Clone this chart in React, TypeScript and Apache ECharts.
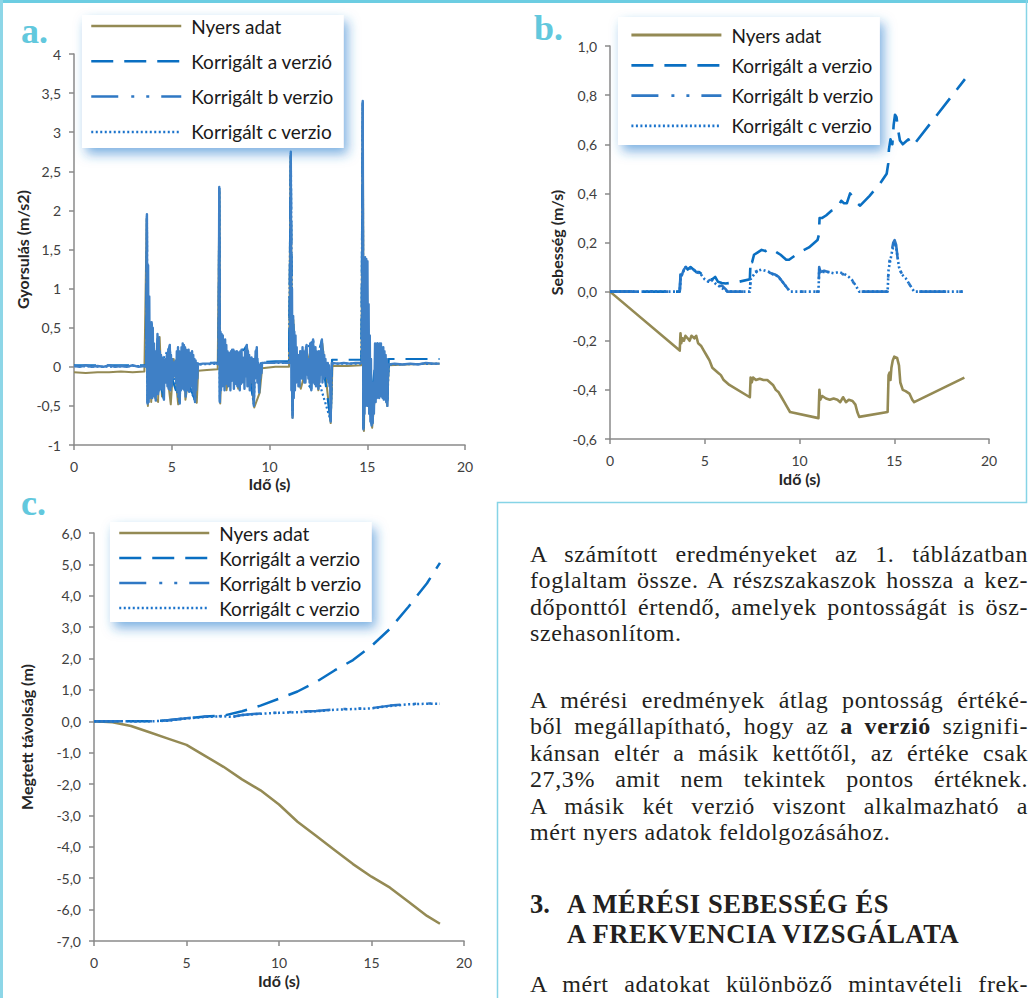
import React, { useEffect, useRef } from 'react';
import * as echarts from 'echarts';

// ---------- Chart a: acceleration (m/s2) ----------
const accRaw: number[][] = [
  [0, -0.07], [0.6, -0.08], [1.2, -0.07], [1.8, -0.07], [2.4, -0.06], [3.0, -0.07], [3.6, -0.06],
  [3.72, 1.9], [3.78, -0.5], [3.88, 0.5], [3.95, -0.45], [4.05, 0.3], [4.15, -0.4], [4.3, -0.45], [4.38, 0.38], [4.5, -0.38],
  [4.7, 0.05], [4.95, -0.48], [5.1, 0.1], [5.33, -0.48], [5.6, 0.25], [5.7, -0.42], [6.0, 0.1], [6.28, -0.46], [6.35, -0.05],
  [6.8, -0.04], [7.35, -0.03], [7.44, 2.25], [7.48, -0.47], [7.6, 0.4], [7.8, -0.3], [8.1, 0.15], [8.4, -0.28], [8.85, 0.25],
  [9.22, -0.52], [9.5, -0.33], [9.62, -0.02], [10.3, 0.0], [11.0, 0.0], [11.08, 2.7], [11.18, -0.65], [11.22, 0.6],
  [11.3, 0.0], [11.6, -0.28], [12.2, 0.3], [12.5, -0.3], [12.7, 0.3], [13.13, -0.72], [13.22, 0.01], [14.0, 0.01], [14.7, 0.02],
  [14.77, 3.35], [14.83, -0.82], [14.97, 1.35], [15.05, 0.0], [15.25, -0.78], [15.6, 0.25], [16.02, -0.5], [16.1, 0.02],
  [17.0, 0.03], [18.0, 0.04], [18.7, 0.04]
];

const accCorrA: number[][] = [
  [0, 0.02], [1, 0.02], [2, 0.02], [3, 0.02], [3.7, 0.02], [3.73, 1.9], [3.77, -0.45], [3.8, 0.2], [3.97, 0.55], [4.0, -0.2],
  [4.16, -0.4], [4.2, 0.0], [4.28, 0.4], [4.32, -0.1], [4.58, -0.4], [4.62, 0.0], [4.9, 0.27], [4.95, -0.1], [5.41, -0.45],
  [5.45, 0.0], [5.65, 0.28], [5.7, -0.1], [6.19, -0.43], [6.23, 0.0], [6.35, 0.04], [7.0, 0.05], [7.4, 0.05], [7.43, 2.28],
  [7.46, -0.43], [7.49, 0.43], [7.55, 0.0], [8.0, -0.28], [8.05, 0.0], [8.84, 0.27], [8.9, 0.0], [9.2, -0.48], [9.25, 0.0],
  [9.35, 0.24], [9.4, 0.0], [9.47, -0.3], [9.55, 0.06], [10.3, 0.07], [11.0, 0.07], [11.09, 2.72], [11.18, -0.62],
  [11.21, 0.62], [11.3, 0.0], [12.14, -0.28], [12.18, 0.0], [12.23, 0.34], [12.3, 0.0], [12.68, 0.34], [12.75, 0.0],
  [13.13, -0.68], [13.2, 0.09], [14.0, 0.09], [14.7, 0.09], [14.77, 3.38], [14.8, -0.78], [14.89, 1.36], [14.95, 0.0],
  [15.22, -0.72], [15.3, -0.2], [15.52, 0.3], [15.6, 0.0], [16.03, -0.43], [16.1, 0.1], [17.0, 0.1], [18.0, 0.1], [18.7, 0.1]
];

const accCorrB: number[][] = [
  [0, 0.01], [0.3, 0.0], [0.6, 0.02], [0.9, 0.0], [1.2, 0.01], [1.5, 0.0], [1.8, 0.02], [2.1, 0.0], [2.4, 0.01], [2.7, 0.0],
  [3.0, 0.02], [3.3, 0.0], [3.6, 0.01],
  [3.70, 0.0], [3.73, 1.95], [3.76, -0.47], [3.79, 1.3], [3.82, -0.45], [3.85, 0.9], [3.88, -0.4], [3.91, 0.45], [3.94, -0.35],
  [3.97, 0.57], [4.00, -0.4], [4.03, 0.5], [4.06, -0.3], [4.09, 0.3], [4.12, -0.38], [4.15, 0.2], [4.18, -0.43], [4.21, 0.15],
  [4.24, -0.25], [4.27, 0.42], [4.30, -0.35], [4.33, 0.38], [4.36, -0.3], [4.39, 0.2], [4.42, -0.28], [4.45, 0.15],
  [4.48, -0.22], [4.51, 0.12], [4.54, -0.3], [4.57, 0.1], [4.60, -0.42], [4.63, 0.05], [4.66, -0.15], [4.69, 0.1],
  [4.72, -0.2], [4.75, 0.15], [4.78, -0.25], [4.81, 0.2], [4.84, -0.28], [4.87, 0.22], [4.90, 0.28], [4.93, -0.3],
  [4.96, 0.15], [4.99, -0.25], [5.02, 0.1], [5.05, -0.15], [5.08, 0.05], [5.11, -0.12], [5.14, 0.06], [5.17, -0.1],
  [5.20, 0.08], [5.23, -0.2], [5.26, 0.2], [5.29, -0.3], [5.32, 0.25], [5.35, -0.38], [5.38, 0.2], [5.41, -0.47],
  [5.44, 0.18], [5.47, -0.3], [5.50, 0.25], [5.53, -0.25], [5.56, 0.3], [5.59, -0.28], [5.62, 0.28], [5.65, -0.3],
  [5.68, 0.25], [5.71, -0.38], [5.74, 0.22], [5.77, -0.25], [5.80, 0.2], [5.83, -0.3], [5.86, 0.22], [5.89, -0.32],
  [5.92, 0.18], [5.95, -0.25], [5.98, 0.15], [6.01, -0.22], [6.04, 0.2], [6.07, -0.3], [6.10, 0.15], [6.13, -0.35],
  [6.16, 0.1], [6.19, -0.45], [6.22, 0.08], [6.25, -0.3], [6.28, 0.05], [6.31, -0.15], [6.34, 0.03],
  [6.6, 0.04], [6.9, 0.04], [7.2, 0.05],
  [7.40, 0.03], [7.43, 2.3], [7.46, -0.45], [7.49, 0.45], [7.52, -0.3], [7.55, 0.42], [7.58, -0.25], [7.61, 0.4],
  [7.64, -0.2], [7.67, 0.3], [7.70, -0.3], [7.73, 0.35], [7.76, -0.22], [7.79, 0.28], [7.82, -0.15], [7.85, 0.2],
  [7.88, -0.25], [7.91, 0.18], [7.94, -0.2], [7.97, 0.15], [8.00, -0.3], [8.03, 0.2], [8.06, -0.18], [8.09, 0.22],
  [8.12, -0.15], [8.15, 0.22], [8.18, -0.28], [8.21, 0.2], [8.24, -0.2], [8.27, 0.18], [8.30, -0.22], [8.33, 0.2],
  [8.36, -0.25], [8.39, 0.15], [8.42, -0.25], [8.45, 0.18], [8.48, -0.3], [8.51, 0.2], [8.54, -0.22], [8.57, 0.22],
  [8.60, -0.2], [8.63, 0.12], [8.66, -0.15], [8.69, 0.1], [8.72, -0.28], [8.75, 0.2], [8.78, -0.12], [8.81, 0.22],
  [8.84, 0.28], [8.87, -0.25], [8.90, 0.2], [8.93, -0.2], [8.96, 0.15], [8.99, -0.3], [9.02, 0.1], [9.05, -0.2],
  [9.08, 0.12], [9.11, -0.15], [9.14, 0.1], [9.17, -0.25], [9.20, -0.5], [9.23, 0.1], [9.26, -0.15], [9.29, 0.2],
  [9.32, -0.1], [9.35, 0.25], [9.38, -0.2], [9.41, 0.05], [9.44, -0.15], [9.47, -0.33], [9.50, 0.02], [9.53, -0.15],
  [9.56, 0.02], [9.59, -0.08], [9.62, 0.05],
  [9.9, 0.05], [10.2, 0.05], [10.5, 0.06], [10.8, 0.05], [11.0, 0.05],
  [11.06, 0.05], [11.09, 2.75], [11.12, -0.3], [11.15, 1.0], [11.18, -0.65], [11.21, 0.65], [11.24, -0.4], [11.27, 0.45],
  [11.30, -0.3], [11.33, 0.4], [11.36, -0.2], [11.39, 0.25], [11.42, -0.15], [11.45, 0.15], [11.48, -0.25], [11.51, 0.15],
  [11.54, -0.25], [11.57, 0.2], [11.60, -0.1], [11.63, 0.2], [11.66, -0.15], [11.69, 0.25], [11.72, -0.15], [11.75, 0.2],
  [11.78, -0.2], [11.81, 0.2], [11.84, -0.2], [11.87, 0.25], [11.90, 0.28], [11.93, -0.1], [11.96, 0.1], [11.99, -0.15],
  [12.02, 0.1], [12.05, -0.2], [12.08, 0.3], [12.11, -0.25], [12.14, -0.3], [12.17, 0.15], [12.20, 0.3], [12.23, 0.35],
  [12.26, -0.2], [12.29, 0.25], [12.32, -0.22], [12.35, 0.25], [12.38, -0.25], [12.41, 0.2], [12.44, -0.15], [12.47, 0.15],
  [12.50, -0.28], [12.53, 0.2], [12.56, -0.2], [12.59, 0.15], [12.62, -0.1], [12.65, 0.3], [12.68, 0.35], [12.71, -0.2],
  [12.74, 0.2], [12.77, -0.15], [12.80, 0.15], [12.83, -0.12], [12.86, 0.1], [12.89, -0.1], [12.92, 0.05], [12.95, -0.15],
  [12.98, 0.05], [13.01, -0.2], [13.04, 0.02], [13.07, -0.25], [13.10, -0.1], [13.13, -0.7], [13.16, -0.1], [13.19, 0.05],
  [13.5, 0.04], [13.8, 0.05], [14.1, 0.04], [14.4, 0.05], [14.7, 0.05],
  [14.74, 0.05], [14.77, 3.4], [14.80, -0.8], [14.83, 1.2], [14.86, -0.6], [14.89, 1.4], [14.92, -0.5], [14.95, 1.38],
  [14.98, -0.3], [15.01, 1.35], [15.04, -0.5], [15.07, 0.8], [15.10, -0.6], [15.13, 0.4], [15.16, -0.7], [15.19, 0.1],
  [15.22, -0.75], [15.25, -0.2], [15.28, -0.72], [15.31, -0.2], [15.34, -0.6], [15.37, -0.2], [15.40, 0.3], [15.43, -0.45],
  [15.46, 0.28], [15.49, -0.4], [15.52, 0.3], [15.55, -0.35], [15.58, 0.28], [15.61, -0.4], [15.64, 0.3], [15.67, -0.35],
  [15.70, 0.3], [15.73, -0.38], [15.76, 0.25], [15.79, -0.4], [15.82, 0.25], [15.85, -0.42], [15.88, 0.2], [15.91, -0.35],
  [15.94, 0.15], [15.97, -0.45], [16.00, 0.1], [16.03, -0.5], [16.06, 0.0], [16.09, 0.03],
  [16.4, 0.04], [16.8, 0.03], [17.2, 0.04], [17.6, 0.03], [18.0, 0.05], [18.4, 0.04], [18.7, 0.04]
];

const accCorrC: number[][] = [
  [0, 0.01], [1.5, 0.0], [3.0, 0.01], [3.7, 0.01], [3.73, 1.93], [3.76, -0.46], [3.8, 0.1], [3.97, 0.56], [4.0, 0.0],
  [4.3, -0.35], [4.35, 0.0], [4.9, 0.26], [4.95, 0.0], [5.41, -0.45], [5.45, 0.0], [6.19, -0.43], [6.23, 0.0], [6.35, 0.03],
  [7.4, 0.04], [7.43, 2.28], [7.46, -0.44], [7.5, 0.0], [8.84, 0.26], [8.9, 0.0], [9.2, -0.48], [9.25, 0.0], [9.6, 0.05],
  [11.0, 0.05], [11.09, 2.73], [11.18, -0.63], [11.22, 0.0], [12.23, 0.34], [12.3, 0.0], [13.13, -0.69], [13.2, 0.04],
  [14.7, 0.04], [14.77, 3.38], [14.8, -0.79], [14.89, 1.37], [14.95, 0.0], [15.22, -0.73], [15.3, -0.2], [16.03, -0.44],
  [16.1, 0.03], [18.7, 0.04]
];

// ---------- Chart b: velocity (m/s) ----------
const velRaw: number[][] = [
  [0, 0], [3.68, -0.24], [3.72, -0.17], [3.76, -0.21], [3.82, -0.19], [3.9, -0.2], [3.98, -0.18], [4.1, -0.19], [4.2, -0.2],
  [4.3, -0.18], [4.45, -0.19], [4.55, -0.18], [4.65, -0.21], [4.8, -0.22], [4.95, -0.24], [5.1, -0.26], [5.25, -0.28],
  [5.4, -0.31], [5.55, -0.32], [5.7, -0.33], [5.85, -0.34], [6.0, -0.36], [6.15, -0.37], [6.3, -0.38], [7.38, -0.43],
  [7.42, -0.35], [7.48, -0.37], [7.55, -0.35], [7.7, -0.36], [7.9, -0.355], [8.1, -0.36], [8.3, -0.36], [8.45, -0.37],
  [8.6, -0.38], [8.75, -0.4], [8.9, -0.41], [9.05, -0.43], [9.2, -0.45], [9.35, -0.47], [9.5, -0.49], [11.0, -0.515],
  [11.05, -0.4], [11.1, -0.44], [11.2, -0.425], [11.4, -0.435], [11.6, -0.44], [11.8, -0.435], [12.0, -0.44], [12.15, -0.45],
  [12.3, -0.43], [12.45, -0.45], [12.6, -0.44], [12.8, -0.445], [12.95, -0.46], [13.05, -0.49], [13.15, -0.51],
  [14.65, -0.49], [14.7, -0.34], [14.75, -0.33], [14.8, -0.36], [14.85, -0.31], [14.92, -0.28], [15.0, -0.265],
  [15.15, -0.27], [15.25, -0.3], [15.32, -0.37], [15.45, -0.4], [15.6, -0.405], [15.8, -0.415], [15.95, -0.44],
  [16.05, -0.45], [18.7, -0.35]
];

const velCorrA: number[][] = [
  [0, 0], [3.68, 0.0], [3.72, 0.07], [3.8, 0.06], [3.9, 0.09], [4.0, 0.1], [4.1, 0.09], [4.25, 0.1], [4.4, 0.09], [4.55, 0.08],
  [4.7, 0.08], [4.85, 0.07], [5.0, 0.06], [5.2, 0.05], [5.4, 0.05], [5.55, 0.06], [5.7, 0.04], [5.9, 0.035], [6.1, 0.033],
  [6.8, 0.04], [7.38, 0.05], [7.42, 0.13], [7.5, 0.12], [7.6, 0.15], [7.8, 0.16], [8.0, 0.17], [8.2, 0.165], [8.4, 0.175],
  [8.6, 0.17], [8.8, 0.16], [9.0, 0.15], [9.3, 0.13], [9.45, 0.13], [10.0, 0.16], [10.5, 0.18], [10.95, 0.21], [11.02, 0.23],
  [11.06, 0.3], [11.2, 0.3], [11.4, 0.31], [11.7, 0.33], [12.0, 0.34], [12.2, 0.37], [12.35, 0.36], [12.5, 0.36],
  [12.67, 0.4], [12.85, 0.38], [13.05, 0.36], [13.2, 0.35], [13.7, 0.39], [14.25, 0.44], [14.6, 0.48], [14.68, 0.52],
  [14.72, 0.58], [14.8, 0.62], [14.9, 0.6], [14.97, 0.68], [15.04, 0.72], [15.12, 0.71], [15.2, 0.66], [15.3, 0.615],
  [15.45, 0.6], [15.6, 0.61], [15.75, 0.62], [15.9, 0.6], [16.0, 0.595], [18.73, 0.865]
];

const velCorrB: number[][] = [
  [0, 0], [3.68, 0], [3.72, 0.06], [3.8, 0.07], [3.9, 0.09], [4.0, 0.1], [4.1, 0.09], [4.25, 0.1], [4.4, 0.09], [4.55, 0.08],
  [4.7, 0.075], [4.85, 0.07], [5.0, 0.055], [5.2, 0.045], [5.35, 0.05], [5.5, 0.03], [5.7, 0.02], [5.9, 0.025], [6.1, 0.01],
  [6.2, 0], [7.38, 0], [7.42, 0.06], [7.5, 0.07], [7.65, 0.08], [7.9, 0.09], [8.1, 0.085], [8.3, 0.08], [8.5, 0.075],
  [8.7, 0.07], [8.9, 0.06], [9.1, 0.04], [9.3, 0.02], [9.5, 0], [11.0, 0], [11.04, 0.1], [11.1, 0.08], [11.3, 0.085],
  [11.5, 0.08], [11.7, 0.08], [11.9, 0.075], [12.1, 0.08], [12.3, 0.07], [12.45, 0.075], [12.6, 0.06], [12.75, 0.05],
  [12.9, 0.03], [13.05, 0.01], [13.15, 0], [14.65, 0], [14.7, 0.1], [14.78, 0.14], [14.85, 0.16], [14.95, 0.2],
  [15.02, 0.21], [15.1, 0.19], [15.2, 0.12], [15.35, 0.08], [15.5, 0.06], [15.65, 0.05], [15.8, 0.03], [15.95, 0.01],
  [16.05, 0], [18.7, 0]
];

const velCorrC: number[][] = [
  [0, 0], [3.68, 0], [3.72, 0.05], [3.85, 0.08], [4.0, 0.1], [4.2, 0.095], [4.4, 0.09], [4.6, 0.08], [4.8, 0.07], [5.0, 0.05],
  [5.2, 0.04], [5.4, 0.045], [5.6, 0.03], [5.8, 0.02], [6.0, 0.01], [6.2, 0], [7.38, 0], [7.42, 0.05], [7.6, 0.07],
  [7.8, 0.085], [8.0, 0.09], [8.2, 0.085], [8.4, 0.08], [8.6, 0.07], [8.8, 0.065], [9.0, 0.05], [9.2, 0.03], [9.5, 0],
  [11.0, 0], [11.04, 0.09], [11.2, 0.08], [11.5, 0.08], [11.8, 0.075], [12.1, 0.08], [12.4, 0.07], [12.6, 0.06],
  [12.8, 0.045], [13.0, 0.02], [13.15, 0], [14.65, 0], [14.7, 0.09], [14.8, 0.13], [14.9, 0.17], [15.0, 0.2], [15.1, 0.18],
  [15.25, 0.1], [15.4, 0.07], [15.6, 0.055], [15.8, 0.03], [16.05, 0], [18.7, 0]
];

// ---------- Chart c: distance (m) ----------
const distRaw: number[][] = [
  [0, 0], [1, -0.03], [2, -0.15], [3, -0.35], [4, -0.55], [5, -0.75], [6, -1.1], [7, -1.45], [8, -1.85], [9, -2.2],
  [10, -2.65], [11, -3.2], [12, -3.65], [13, -4.1], [14, -4.55], [15, -4.95], [16, -5.3], [17, -5.75], [18, -6.2], [18.7, -6.45]
];
const distCorrA: number[][] = [
  [0, 0], [3, 0], [4, 0.03], [5, 0.1], [6, 0.15], [7, 0.18], [8, 0.32], [9, 0.5], [10, 0.72], [11, 0.95], [12, 1.25],
  [13, 1.62], [14, 1.95], [15, 2.4], [16, 2.95], [17, 3.65], [18, 4.4], [18.7, 5.05]
];
const distCorrB: number[][] = [
  [0, 0], [3, 0], [4, 0.03], [5, 0.1], [6, 0.15], [7, 0.17], [7.5, 0.15], [8, 0.2], [9, 0.25], [10, 0.28], [11, 0.3],
  [12, 0.33], [13, 0.38], [14, 0.4], [15, 0.42], [16, 0.5], [17, 0.55], [18, 0.57], [18.7, 0.57]
];
const distCorrC: number[][] = [
  [0, 0], [3, 0], [4, 0.02], [5, 0.09], [6, 0.14], [7, 0.16], [7.5, 0.14], [8, 0.2], [9, 0.24], [10, 0.27], [11, 0.29],
  [12, 0.32], [13, 0.37], [14, 0.39], [15, 0.41], [16, 0.49], [17, 0.54], [18, 0.56], [18.7, 0.56]
];

// ---------- Labels ----------
const legendNamesA = ['Nyers adat', 'Korrigált a verzió', 'Korrigált b verzio', 'Korrigált c verzio'];
const legendNamesBC = ['Nyers adat', 'Korrigált a verzio', 'Korrigált b verzio', 'Korrigált c verzio'];
const yTitles = ['Gyorsulás (m/s2)', 'Sebesség (m/s)', 'Megtett távolság (m)'];
const xTitle = 'Idő (s)';
const panelLetters = ['a.', 'b.', 'c.'];

const para1 = [
  'A számított eredményeket az 1.  táblázatban',
  'foglaltam össze. A részszakaszok hossza a kez-',
  'dőponttól értendő, amelyek pontosságát is ösz-',
  'szehasonlítom.'
];
const para2 = [
  'A mérési eredmények átlag pontosság értéké-',
  'ből megállapítható, hogy az |a verzió| szignifi-',
  'kánsan eltér a másik kettőtől, az értéke csak',
  '27,3% amit nem tekintek pontos értéknek.',
  'A másik két verzió viszont alkalmazható a',
  'mért nyers adatok feldolgozásához.'
];
const headingNum = '3.';
const headingLines = ['A MÉRÉSI SEBESSÉG ÉS', 'A FREKVENCIA VIZSGÁLATA'];
const para3 = ['A mért adatokat különböző mintavételi frek-'];

const RAW = '#948A54';
const BLUE_A = '#0a6fc2';
const BLUE_B = '#2f78c4';
const BLUE_C = '#1c74cc';
const AXIS = '#8a8a8a';
const DASH_A = [22, 11];
const DASH_B = [27, 13, 3, 12, 3, 12];
const DASH_C = [2, 2.5];

function App() {
  const ref = useRef<HTMLDivElement>(null);

  useEffect(() => {
    if (!ref.current) return;
    const chart = echarts.init(ref.current, undefined, { renderer: 'svg' });

    const labelStyle = { color: '#404040', fontFamily: 'Lato', fontSize: 14 };
    const titleStyle = { fontFamily: 'Lato', fontWeight: 'bold' as const, fontSize: 16, color: '#262626' };

    const mkX = (gridIndex: number, nameGap: number) => ({
      type: 'value', gridIndex, min: 0, max: 20, interval: 5,
      name: xTitle, nameLocation: 'middle', nameGap, nameTextStyle: titleStyle,
      axisLine: { onZero: false, lineStyle: { color: AXIS, width: 1.5 } },
      axisTick: { show: true, inside: false, length: 5, lineStyle: { color: AXIS, width: 1.5 } },
      axisLabel: { ...labelStyle, margin: 14 },
      splitLine: { show: false }
    });
    const mkY = (gridIndex: number, min: number, max: number, interval: number, nameGap: number, fmt: (v: number) => string) => ({
      type: 'value', gridIndex, min, max, interval,
      name: yTitles[gridIndex], nameLocation: 'middle', nameGap, nameRotate: 90, nameTextStyle: titleStyle,
      axisLine: { onZero: false, lineStyle: { color: AXIS, width: 1.5 } },
      axisTick: { show: true, inside: false, length: 5, lineStyle: { color: AXIS, width: 1.5 } },
      axisLabel: { ...labelStyle, margin: 13, formatter: fmt },
      splitLine: { show: false }
    });

    const fmtGeneral = (v: number) => String(Math.round(v * 10) / 10).replace('.', ',');
    const fmtOne = (v: number) => (Math.round(v * 10) / 10).toFixed(1).replace('.', ',');

    const line = (name: string, data: number[][], idx: number, color: string, type: any, width: number) => ({
      type: 'line', name, data, xAxisIndex: idx, yAxisIndex: idx, symbol: 'none', silent: true,
      lineStyle: { color, width, type, cap: 'butt', join: 'round' },
      itemStyle: { color }
    });

    const legendItems = (names: string[], width: number) => [
      { name: names[0], lineStyle: { type: 'solid', color: RAW, width } },
      { name: names[1], lineStyle: { type: DASH_A, color: BLUE_A, width } },
      { name: names[2], lineStyle: { type: DASH_B, color: BLUE_B, width } },
      { name: names[3], lineStyle: { type: DASH_C, color: BLUE_C, width } }
    ];

    const legend = (names: string[], left: number, top: number, gap: number, padding: number[], width: number) => ({
      data: legendItems(names, width), orient: 'vertical', left, top, padding, itemWidth: 90, itemHeight: 20, itemGap: gap,
      backgroundColor: '#ffffff', shadowBlur: 12, shadowColor: 'rgba(40,125,205,0.6)', shadowOffsetX: 4, shadowOffsetY: 6,
      selectedMode: false,
      itemStyle: { opacity: 0 },
      textStyle: { fontFamily: 'Lato', fontSize: 19, lineHeight: 20, color: '#1a1a1a', padding: [0, 0, 0, 5] }
    });

    chart.setOption({
      animation: false,
      backgroundColor: '#ffffff',
      grid: [
        { left: 74, top: 54, width: 391, height: 391, outerBoundsMode: 'none' },
        { left: 610, top: 46, width: 379, height: 393, outerBoundsMode: 'none' },
        { left: 94, top: 533, width: 370, height: 408, outerBoundsMode: 'none' }
      ],
      xAxis: [mkX(0, 30), mkX(1, 31), mkX(2, 31)],
      yAxis: [
        mkY(0, -1, 4, 0.5, 44, fmtGeneral),
        mkY(1, -0.6, 1.0, 0.2, 46, fmtOne),
        mkY(2, -7, 6, 1, 60, fmtOne)
      ],
      legend: [
        legend(legendNamesA, 82, 15, 15.3, [1, 10, 6, 8], 2.5),
        legend(legendNamesBC, 618, 17, 10.3, [8, 6, 9, 12], 2.8),
        legend(legendNamesBC, 110, 522, 5, [1, 10, 4, 8], 2.5)
      ],
      series: [
        line(legendNamesA[0], accRaw, 0, RAW, 'solid', 2),
        line(legendNamesA[1], accCorrA, 0, BLUE_A, DASH_A, 2.2),
        line(legendNamesA[3], accCorrC, 0, BLUE_C, DASH_C, 2.2),
        line(legendNamesA[2], accCorrB, 0, '#3f80c6', 'solid', 2.4),

        line(legendNamesBC[0], velRaw, 1, RAW, 'solid', 2.6),
        line(legendNamesBC[1], velCorrA, 1, BLUE_A, DASH_A, 2.6),
        line(legendNamesBC[2], velCorrB, 1, BLUE_B, DASH_B, 2.6),
        line(legendNamesBC[3], velCorrC, 1, BLUE_C, DASH_C, 2.6),

        line(legendNamesBC[0], distRaw, 2, RAW, 'solid', 2.5),
        line(legendNamesBC[1], distCorrA, 2, BLUE_A, DASH_A, 2.5),
        line(legendNamesBC[2], distCorrB, 2, BLUE_B, DASH_B, 2.5),
        line(legendNamesBC[3], distCorrC, 2, BLUE_C, DASH_C, 2.5)
      ],
      graphic: [
        { type: 'rect', shape: { x: 0, y: 0, width: 1028, height: 3 }, style: { fill: '#6ccde2' }, silent: true },
        { type: 'rect', shape: { x: 0, y: 0, width: 3, height: 998 }, style: { fill: '#8dd6e7' }, silent: true },
        {
          type: 'polyline', shape: { points: [[1026.5, 0], [1026.5, 502.5], [497.5, 502.5], [497.5, 998]] },
          style: { stroke: '#86d4e6', lineWidth: 1.5, fill: 'none' }, silent: true
        },
        { type: 'text', x: 21, y: 31, style: { text: panelLetters[0], font: 'bold 36px "Liberation Serif"', fill: '#62c8dd', verticalAlign: 'middle' } },
        { type: 'text', x: 534, y: 28, style: { text: panelLetters[1], font: 'bold 36px "Liberation Serif"', fill: '#62c8dd', verticalAlign: 'middle' } },
        { type: 'text', x: 21, y: 503, style: { text: panelLetters[2], font: 'bold 36px "Liberation Serif"', fill: '#62c8dd', verticalAlign: 'middle' } }
      ]
    } as any);

    return () => chart.dispose();
  }, []);

  const serif = '"Liberation Serif", "Times New Roman", serif';
  const lineDiv = (txt: string, key: number, last: boolean) => {
    const parts = txt.split('|');
    return (
      <div key={key} style={{ textAlign: last ? 'left' : 'justify', textAlignLast: last ? 'left' : 'justify' } as any}>
        {parts.map((p, i) => (i % 2 === 1 ? <b key={i}>{p}</b> : <span key={i}>{p}</span>))}
      </div>
    );
  };

  const bodyStyle: React.CSSProperties = {
    position: 'absolute', left: 530, width: 498, fontFamily: serif, fontSize: 24, letterSpacing: '0.6px',
    lineHeight: '26.4px', color: '#231f20'
  };

  return (
    <div style={{ position: 'absolute', left: 0, top: 0, width: 1028, height: 998, overflow: 'hidden', background: '#fff' }}>
      <div ref={ref} style={{ position: 'absolute', left: 0, top: 0, width: 1028, height: 998 }} />
      <div style={{ ...bodyStyle, top: 541 }}>
        {para1.map((t, i) => lineDiv(t, i, i === para1.length - 1))}
      </div>
      <div style={{ ...bodyStyle, top: 687 }}>
        {para2.map((t, i) => lineDiv(t, i, i === para2.length - 1))}
      </div>
      <div style={{ ...bodyStyle, top: 889, fontSize: 26.5, letterSpacing: '0.6px', lineHeight: '30px', fontWeight: 'bold' }}>
        <div><span style={{ display: 'inline-block', width: 37, letterSpacing: 0 }}>{headingNum}</span>{headingLines[0]}</div>
        <div style={{ paddingLeft: 37 }}>{headingLines[1]}</div>
      </div>
      <div style={{ ...bodyStyle, top: 971 }}>
        {para3.map((t, i) => lineDiv(t, i, false))}
      </div>
    </div>
  );
}

export default App;
